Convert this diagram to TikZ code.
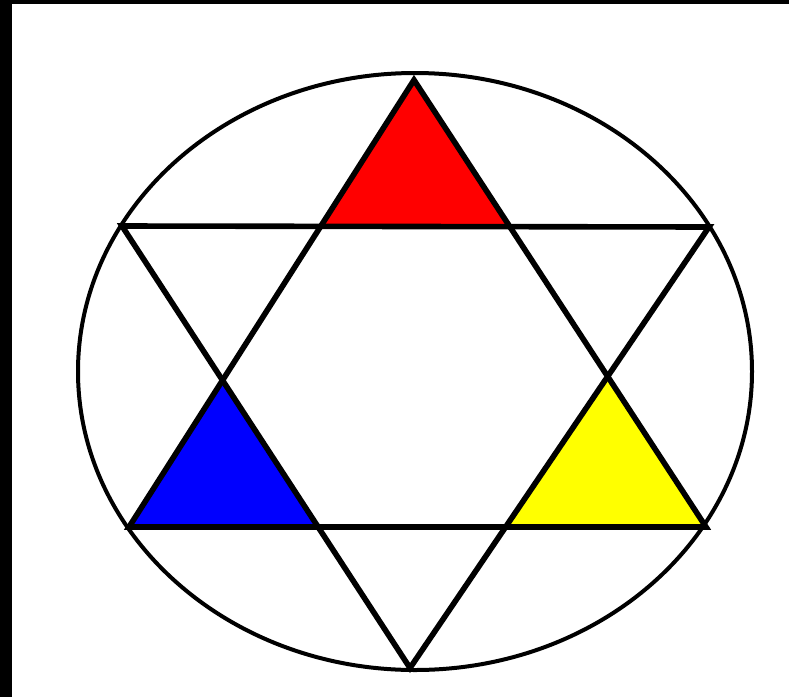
\documentclass[tikz,border=0pt]{standalone}
\usepackage{tikz}
\definecolor{starred}{HTML}{FF0000}
\definecolor{starblue}{HTML}{0000FF}
\definecolor{staryellow}{HTML}{FFFF00}

\begin{document}
\begin{tikzpicture}[x=0.75pt,y=-0.75pt,
    edge/.style={line width=4.2pt,line join=miter,line cap=round},
    rim/.style={line width=3pt}]
  \useasboundingbox (0,0) rectangle (789,697);
  \fill[white] (0,0) rectangle (789,697);
  \fill[black] (0,0) rectangle (12,697);
  \fill[black] (0,0) rectangle (789,4);
  % points of the two triangles
  \coordinate (up)   at (414,80);
  \coordinate (upl)  at (129,527);
  \coordinate (upr)  at (706,527);
  \coordinate (dnl)  at (122,226);
  \coordinate (dnr)  at (709,227);
  \coordinate (dn)   at (410,668);
  \coordinate (redl) at (intersection of up--upl and dnl--dnr);
  \coordinate (redr) at (intersection of up--upr and dnl--dnr);
  \coordinate (midl) at (intersection of up--upl and dnl--dn);
  \coordinate (midr) at (intersection of up--upr and dnr--dn);
  \coordinate (bluer) at (intersection of dnl--dn and upl--upr);
  \coordinate (yelll) at (intersection of dnr--dn and upl--upr);
  \fill[starred] (up) -- (redl) -- (redr) -- cycle;
  \fill[starblue] (midl) -- (upl) -- (bluer) -- cycle;
  \fill[staryellow] (midr) -- (yelll) -- (upr) -- cycle;
  \draw[rim] (415,371.5) ellipse [x radius=337, y radius=298.5];
  \draw[edge] (up) -- (upl) -- (upr) -- cycle;
  \draw[edge] (dnl) -- (dnr) -- (dn) -- cycle;
\end{tikzpicture}
\end{document}
